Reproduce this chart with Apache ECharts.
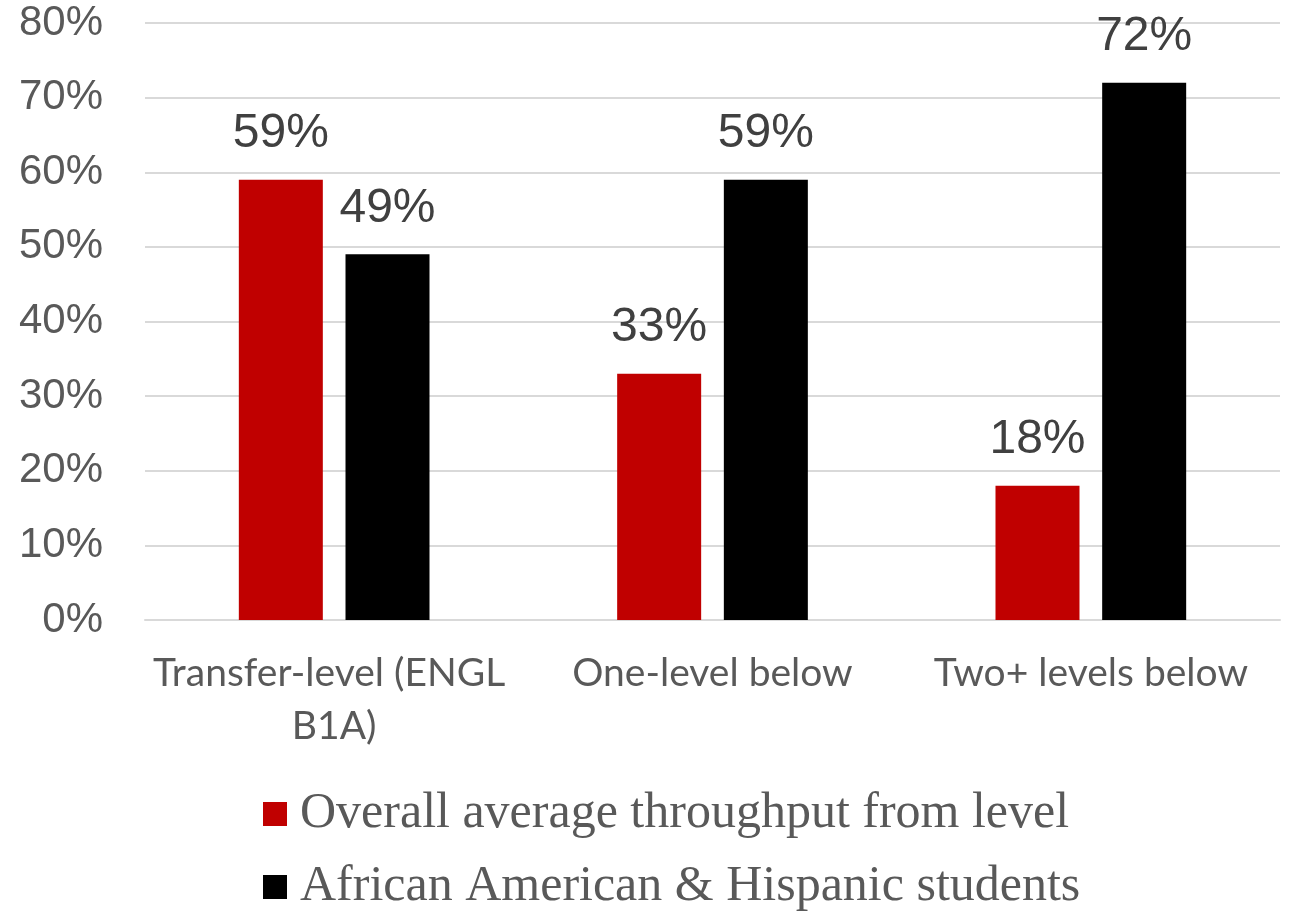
<!DOCTYPE html>
<html>
<head>
<meta charset="utf-8">
<script src="https://cdn.jsdelivr.net/npm/echarts@6/dist/echarts.min.js"></script>
<style>
html,body{margin:0;padding:0;background:#fff;}
#chart{width:1289px;height:911px;}
</style>
</head>
<body>
<div id="chart"></div>
<script>
const categories = ["Transfer-level (ENGL B1A)", "One-level below", "Two+ levels below"];
const seriesNames = ["Overall average throughput from level", "African American & Hispanic students"];
const overallValues = [59, 33, 18];
const aaHispanicValues = [49, 59, 72];
const yTicks = [0, 10, 20, 30, 40, 50, 60, 70, 80];

const chart = echarts.init(document.getElementById('chart'), null, {renderer: 'canvas'});
const labelStyle = {
  show: true,
  position: 'top',
  distance: 22,
  formatter: p => p.value + '%',
  fontFamily: 'Liberation Sans, Arial, sans-serif',
  fontSize: 48,
  color: '#404040'
};
function legendAt(name, top) {
  return {
    orient: 'horizontal',
    left: 258,
    top: top,
    itemWidth: 24,
    itemHeight: 24,
    itemGap: 10,
    icon: 'rect',
    textStyle: {fontFamily: 'Liberation Serif, Times New Roman, serif', fontSize: 50, lineHeight: 56, color: '#595959', padding: [0,0,0,8]},
    data: [name]
  };
}
chart.setOption({
  animation: false,
  backgroundColor: '#ffffff',
  grid: {left: 145, right: 9, top: 23, bottom: 291, containLabel: false},
  legend: [legendAt(seriesNames[0], 781), legendAt(seriesNames[1], 854)],
  xAxis: {
    type: 'category',
    data: categories,
    axisLine: {show: true, lineStyle: {color: '#d9d9d9', width: 2}},
    axisTick: {show: false},
    axisLabel: {
      interval: 0,
      margin: 27,
      width: 370,
      overflow: 'break',
      lineHeight: 53,
      fontFamily: 'Lato, Open Sans, sans-serif',
      fontSize: 39,
      color: '#595959'
    }
  },
  yAxis: {
    type: 'value',
    min: yTicks[0],
    max: yTicks[yTicks.length - 1],
    interval: 10,
    axisLine: {show: false},
    axisTick: {show: false},
    splitLine: {lineStyle: {color: '#d9d9d9', width: 2}},
    axisLabel: {
      margin: 42,
      formatter: v => v + '%',
      fontFamily: 'Liberation Sans, Arial, sans-serif',
      fontSize: 42,
      padding: [8, 0, 0, 0],
      color: '#595959'
    }
  },
  series: [
    {
      name: seriesNames[0],
      type: 'bar',
      data: overallValues,
      barWidth: 84,
      barGap: '27%',
      itemStyle: {color: '#c00000'},
      label: labelStyle
    },
    {
      name: seriesNames[1],
      type: 'bar',
      data: aaHispanicValues,
      barWidth: 84,
      barGap: '27%',
      itemStyle: {color: '#000000'},
      label: labelStyle
    }
  ]
});
</script>
</body>
</html>
